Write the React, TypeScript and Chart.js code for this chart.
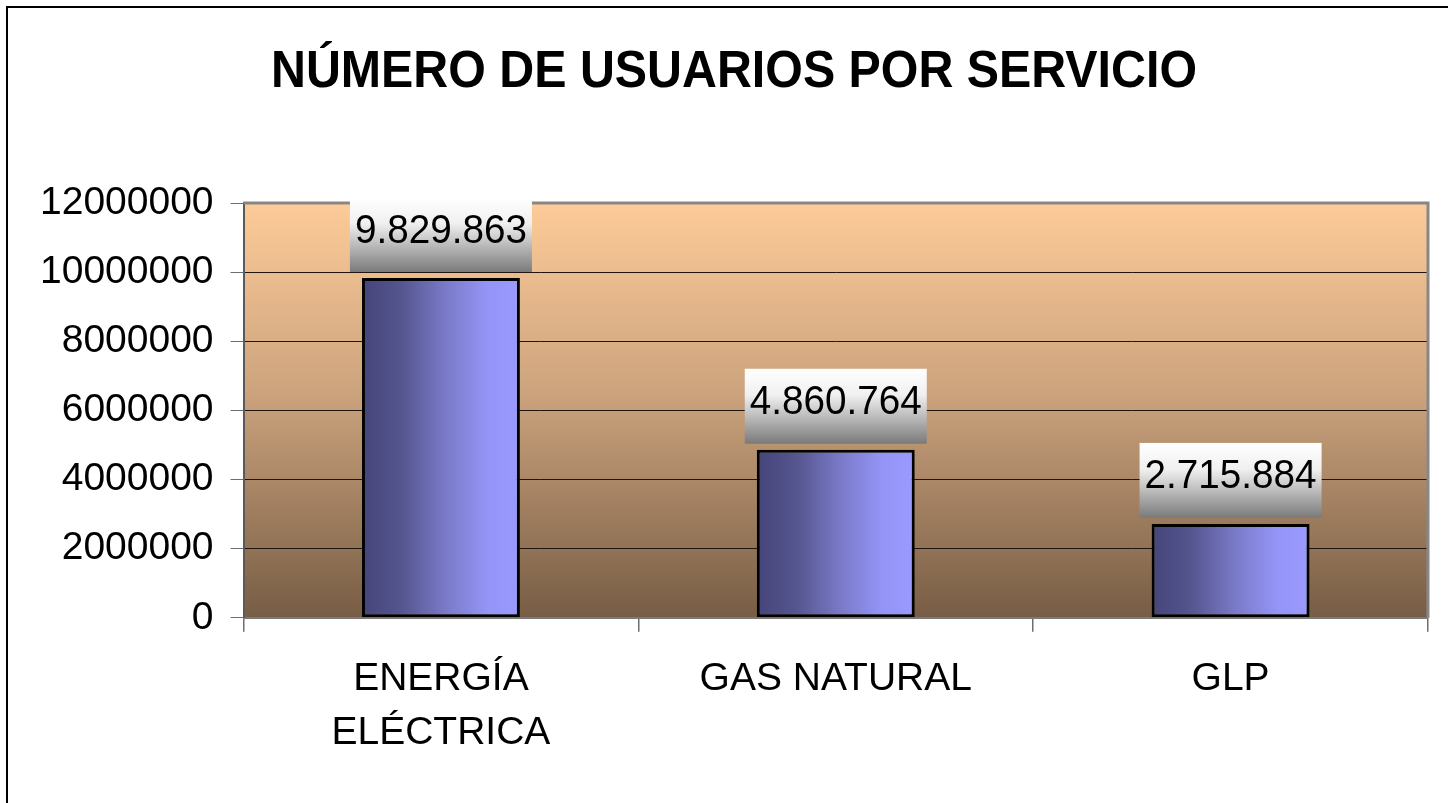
import React, { useEffect, useRef } from 'react';
import { Chart, registerables } from 'chart.js';

Chart.register(...registerables);

// ---- data ----
const categories: (string | string[])[] = [['ENERGÍA', 'ELÉCTRICA'], 'GAS NATURAL', 'GLP'];
const usuarios: number[] = [9829863, 4860764, 2715884];
const yMin = 0;
const yMax = 12000000;
const yStep = 2000000;
const chartTitle = 'NÚMERO DE USUARIOS POR SERVICIO';

const SANS = "'Liberation Sans', Arial, sans-serif";
const BAR_FRACTION = 0.4;

function fmt(n: number): string {
  return String(Math.round(n)).replace(/\B(?=(\d{3})+(?!\d))/g, '.');
}

const decorPlugin = {
  id: 'decor',
  beforeDraw(chart: any) {
    const { ctx, chartArea } = chart;
    const { left, top, right, bottom } = chartArea;
    ctx.save();
    ctx.fillStyle = '#ffffff';
    ctx.fillRect(0, 0, chart.width, chart.height);
    // outer frame
    ctx.strokeStyle = '#000000';
    ctx.lineWidth = 2;
    ctx.beginPath();
    ctx.moveTo(7, chart.height + 5);
    ctx.lineTo(7, 7);
    ctx.lineTo(chart.width + 5, 7);
    ctx.stroke();
    // title (slightly condensed to fit)
    ctx.fillStyle = '#000000';
    ctx.font = `bold 51px ${SANS}`;
    ctx.textAlign = 'center';
    ctx.textBaseline = 'alphabetic';
    ctx.fillText(chartTitle, 734, 87, 926);
    // plot area gradient
    const g = ctx.createLinearGradient(0, top, 0, bottom);
    g.addColorStop(0, '#FDCB98');
    g.addColorStop(0.45, '#CDA47E');
    g.addColorStop(1, '#775D45');
    ctx.fillStyle = g;
    ctx.fillRect(left, top, right - left, bottom - top);
    ctx.restore();
  },
  beforeDatasetsDraw(chart: any) {
    const { ctx, chartArea } = chart;
    const { left, top, right, bottom } = chartArea;
    ctx.save();
    ctx.strokeStyle = '#878787';
    ctx.lineWidth = 3;
    ctx.beginPath();
    ctx.moveTo(left, top);
    ctx.lineTo(right, top);
    ctx.lineTo(right, bottom);
    ctx.stroke();
    ctx.restore();
  },
  afterDatasetsDraw(chart: any) {
    const { ctx } = chart;
    const meta = chart.getDatasetMeta(0);
    const values = chart.data.datasets[0].data as number[];
    ctx.save();
    meta.data.forEach((bar: any, i: number) => {
      const bw = 182;
      const bh = 75;
      const bottom = bar.y - 6;
      const top = bottom - bh;
      const left = bar.x - bw / 2;
      const g = ctx.createLinearGradient(0, top, 0, bottom);
      g.addColorStop(0, '#ffffff');
      g.addColorStop(0.35, '#f0f0f0');
      g.addColorStop(1, '#7a7a7a');
      ctx.fillStyle = g;
      ctx.fillRect(left, top, bw, bh);
      ctx.fillStyle = '#000000';
      ctx.font = `40px ${SANS}`;
      ctx.textAlign = 'center';
      ctx.textBaseline = 'middle';
      ctx.fillText(fmt(values[i]), bar.x, top + bh / 2 - 3, 172);
    });
    ctx.restore();
  },
};

export default function App() {
  const ref = useRef<HTMLCanvasElement | null>(null);

  useEffect(() => {
    if (!ref.current) return;
    const chart = new Chart(ref.current, {
      type: 'bar',
      data: {
        labels: categories,
        datasets: [
          {
            data: usuarios,
            backgroundColor: (c: any) => {
              const ch = c.chart;
              const xs = ch.scales && ch.scales.x;
              if (!xs || !ch.chartArea || c.dataIndex === undefined) return '#8080d0';
              const cx = xs.getPixelForValue(c.dataIndex);
              const w = (xs.width / categories.length) * BAR_FRACTION;
              if (!isFinite(cx) || !isFinite(w)) return '#8080d0';
              const g = ch.ctx.createLinearGradient(cx - w / 2, 0, cx + w / 2, 0);
              g.addColorStop(0, '#45457A');
              g.addColorStop(0.25, '#55558F');
              g.addColorStop(0.55, '#7C7CCC');
              g.addColorStop(0.8, '#9595F8');
              g.addColorStop(1, '#9999FF');
              return g;
            },
            borderColor: '#000000',
            borderWidth: 3,
            borderSkipped: false,
            barPercentage: BAR_FRACTION,
            categoryPercentage: 1,
          },
        ],
      },
      options: {
        responsive: false,
        animation: false,
        events: [],
        layout: { padding: { left: 23, right: 20, top: 203, bottom: 22 } },
        plugins: {
          legend: { display: false },
          tooltip: { enabled: false },
          title: { display: false },
        },
        scales: {
          x: {
            grid: {
              display: true,
              drawOnChartArea: false,
              drawTicks: true,
              tickLength: 14,
              offset: true,
              color: '#6e6e6e',
              tickColor: '#6e6e6e',
              lineWidth: 1.5,
            },
            border: { display: true, color: '#7a7a7a', width: 2 },
            ticks: {
              color: '#000000',
              padding: 20,
              maxRotation: 0,
              autoSkip: false,
              font: { family: SANS, size: 39, lineHeight: 1.4 },
            },
          },
          y: {
            min: yMin,
            max: yMax,
            grid: {
              color: '#1e1410',
              lineWidth: 1,
              drawTicks: true,
              tickLength: 13,
              tickColor: '#6e6e6e',
            },
            border: { display: true, color: '#5a5a5a', width: 2 },
            ticks: {
              stepSize: yStep,
              color: '#000000',
              padding: 17,
              font: { family: SANS, size: 39 },
              callback: (v: any) => String(v),
            },
          },
        },
      },
      plugins: [decorPlugin],
    });
    return () => chart.destroy();
  }, []);

  return (
    <div style={{ position: 'absolute', left: 0, top: 0, width: 1448, height: 803 }}>
      <canvas ref={ref} width={1448} height={803} style={{ display: 'block' }} />
    </div>
  );
}
